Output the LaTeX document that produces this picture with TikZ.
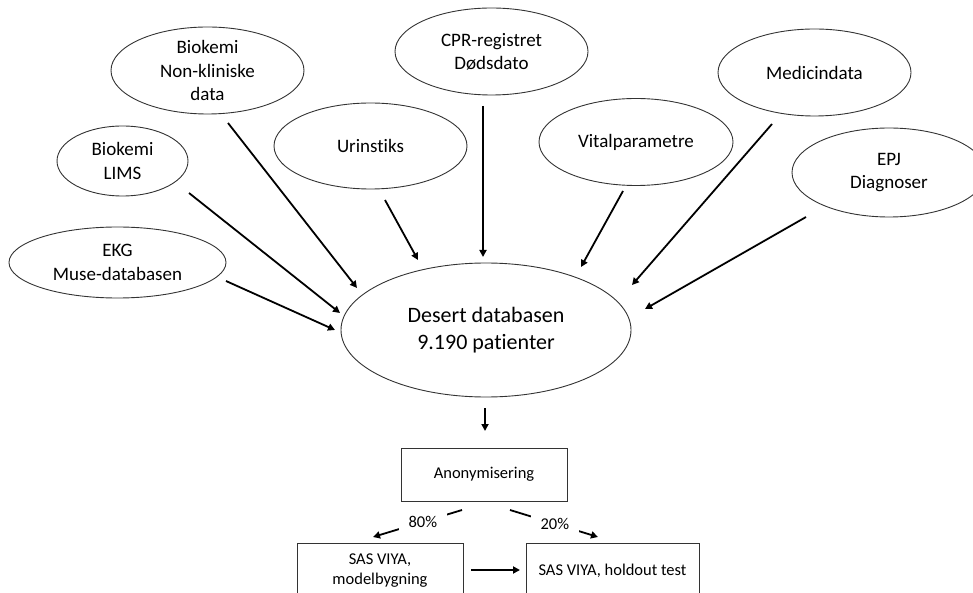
\documentclass[tikz,border=0pt]{standalone}
\usepackage{fontspec}
\setmainfont[Ligatures={NoCommon}]{Carlito}
\usetikzlibrary{shapes.geometric,arrows.meta}
\begin{document}
\begin{tikzpicture}[x=1pt,y=-1pt,
 src/.style={ellipse, draw=black!80, line width=0.9pt, inner sep=0pt, align=center, font=\fontsize{19}{23.3}\selectfont},
 box/.style={rectangle, draw=black!80, line width=0.9pt, inner sep=0pt, align=center, font=\fontsize{16.5}{20}\selectfont},
 conn/.style={line width=1.8pt, -{Triangle[length=7pt,width=7pt]}},
 pct/.style={fill=white, minimum width=48pt, minimum height=35pt, inner sep=0pt, font=\fontsize{16.5}{20}\selectfont}]
\useasboundingbox (0,0) rectangle (973,593);
\clip (0,0) rectangle (973,593);
% source ellipses
\node[src, minimum width=193pt, minimum height=87pt] (bnk) at (207.5,70.5) {Biokemi\\Non-kliniske\\data};
\node[src, minimum width=131pt, minimum height=70pt] (lims) at (122.5,161) {Biokemi\\LIMS};
\node[src, minimum width=217pt, minimum height=71pt] (ekg) at (117.5,262.5) {EKG\\Muse-databasen};
\node[src, minimum width=193pt, minimum height=86pt] (urin) at (370.5,146) {Urinstiks};
\node[src, minimum width=193pt, minimum height=87pt] (cpr) at (491.5,51.5) {CPR-registret\\Dødsdato};
\node[src, minimum width=194pt, minimum height=87pt] (vital) at (636,142) {Vitalparametre};
\node[src, minimum width=193pt, minimum height=87pt] (medi) at (814.5,72.5) {Medicindata};
\node[src, minimum width=194pt, minimum height=89pt] (epj) at (889,172.5) {EPJ\\Diagnoser};
% central
\node[src, minimum width=290pt, minimum height=134pt, font=\fontsize{22}{27}\selectfont] (desert) at (486,330) {Desert databasen\\9.190 patienter};
% boxes
\node[box, minimum width=166pt, minimum height=53pt] (anon) at (484,474.5) {Anonymisering};
\node[box, minimum width=166pt, minimum height=56pt] (sasm) at (380,571) {SAS VIYA,\\modelbygning};
\node[box, minimum width=173pt, minimum height=56pt] (sash) at (612.5,571) {SAS VIYA, holdout test};
% connector end points (arrows leave gaps to the shapes)
\coordinate (a1s) at (228,123);  \coordinate (a1e) at (357,288);
\coordinate (a2s) at (189,193);  \coordinate (a2e) at (340,313);
\coordinate (a3s) at (226,281);  \coordinate (a3e) at (335,330);
\coordinate (a4s) at (385,200);  \coordinate (a4e) at (418,260);
\coordinate (a5s) at (483,106);  \coordinate (a5e) at (483,257);
\coordinate (a6s) at (623,191);  \coordinate (a6e) at (581,267);
\coordinate (a7s) at (772,124);  \coordinate (a7e) at (632,285);
\coordinate (a8s) at (806,217);  \coordinate (a8e) at (645,309);
\coordinate (a9s) at (485,408);  \coordinate (a9e) at (485,431);
\coordinate (p80s) at (462,510); \coordinate (p80e) at (373,537);
\coordinate (p20s) at (510,510); \coordinate (p20e) at (598,537);
\coordinate (hs) at (471,570);   \coordinate (he) at (520,570);
\draw[conn] (a1s) -- (a1e);
\draw[conn] (a2s) -- (a2e);
\draw[conn] (a3s) -- (a3e);
\draw[conn] (a4s) -- (a4e);
\draw[conn] (a5s) -- (a5e);
\draw[conn] (a6s) -- (a6e);
\draw[conn] (a7s) -- (a7e);
\draw[conn] (a8s) -- (a8e);
\draw[conn] (a9s) -- (a9e);
\draw[conn] (p80s) -- node[pct, pos=0.44] (l80) {80\%} (p80e);
\draw[conn] (p20s) -- node[pct, pos=0.51] (l20) {20\%} (p20e);
\draw[conn] (hs) -- (he);
\end{tikzpicture}
\end{document}
